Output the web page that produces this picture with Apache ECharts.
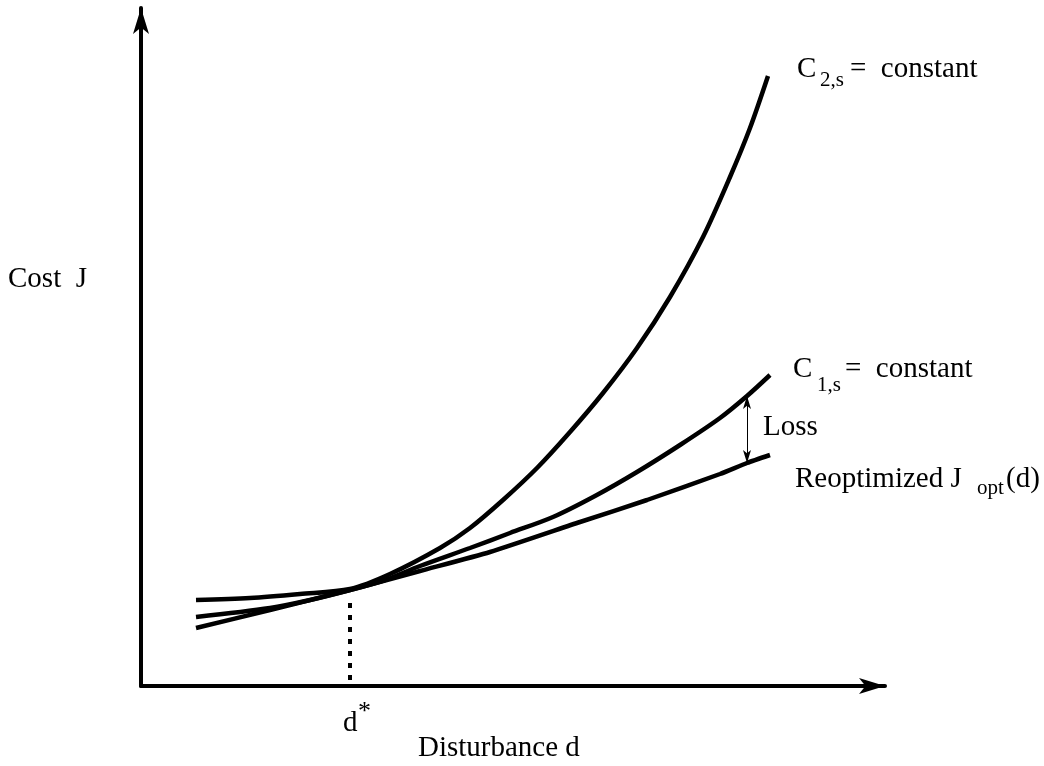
<!DOCTYPE html>
<html>
<head>
<meta charset="utf-8">
<script src="https://cdn.jsdelivr.net/npm/echarts@6/dist/echarts.min.js"></script>
<style>
  html, body { margin: 0; padding: 0; background: #fff; }
  #chart { width: 1044px; height: 766px; }
</style>
</head>
<body>
<div id="chart"></div>
<script>
// schematic units: x = disturbance, y = cost (origin at the axis corner)
const c2Curve = [[55, 86], [109, 88], [159, 92], [209, 97], [249, 112], [299, 138], [329, 158], [362, 186],
  [396, 218], [429, 254], [462, 293], [496, 338], [529, 389], [562, 449], [589, 509], [609, 558], [627, 610]];
const c1Curve = [[55, 69], [129, 78], [169, 86], [209, 96], [244, 106], [279, 120], [329, 138], [369, 153],
  [412, 169], [454, 190], [496, 214], [539, 241], [579, 268], [606, 290], [629, 311]];
const jOptCurve = [[55, 58], [129, 76], [209, 96], [279, 115], [349, 134], [439, 164], [506, 186],
  [579, 212], [606, 223], [629, 231]];
const dStar = 209;
const dStarLine = [[dStar, 83], [dStar, 0]];
const lossAt = [606, 290, 223]; // x, top (C1), bottom (J_opt)

const serif = 'Liberation Serif';
const chart = echarts.init(document.getElementById('chart'));

const lineSeries = (name, data, smooth) => ({
  name: name,
  type: 'line',
  data: data,
  smooth: smooth,
  showSymbol: false,
  silent: true,
  lineStyle: {color: '#000', width: 4.5, cap: 'butt'}
});

// y is the text baseline
const txt = (x, y, text, size) => ({
  type: 'text',
  x: x,
  y: y - Math.round(size * 0.8),
  silent: true,
  style: {text: text, fontSize: size, fontFamily: serif, fill: '#000', verticalAlign: 'top'}
});

let option = {
  animation: false,
  backgroundColor: '#fff',
  grid: {left: 141, right: 159, top: 8, bottom: 80},
  xAxis: {
    type: 'value',
    min: 0,
    max: 744,
    axisLine: {show: true, onZero: false, symbol: ['none', 'arrow'], symbolSize: [12, 26],
      lineStyle: {color: '#000', width: 4}},
    axisTick: {show: false},
    axisLabel: {show: false},
    splitLine: {show: false}
  },
  yAxis: {
    type: 'value',
    min: 0,
    max: 678,
    axisLine: {show: true, onZero: false, symbol: ['none', 'arrow'], symbolSize: [12, 26],
      lineStyle: {color: '#000', width: 4}},
    axisTick: {show: false},
    axisLabel: {show: false},
    splitLine: {show: false}
  },
  series: [
    lineSeries('C2,s = constant', c2Curve, 0.3),
    lineSeries('C1,s = constant', c1Curve, 0.3),
    lineSeries('Reoptimized Jopt(d)', jOptCurve, 0.2),
    {
      name: 'd*',
      type: 'line',
      data: dStarLine,
      showSymbol: false,
      silent: true,
      lineStyle: {color: '#000', width: 4, type: [5, 7]},
      markLine: {
        silent: true,
        symbol: ['arrow', 'arrow'],
        symbolSize: [6, 13],
        label: {show: false},
        lineStyle: {color: '#000', width: 1, type: 'solid'},
        data: [[{coord: [lossAt[0], lossAt[1]]}, {coord: [lossAt[0], lossAt[2]]}]]
      }
    }
  ],
  graphic: [
    txt(8, 288, 'Cost  J', 29),
    txt(797, 78, 'C', 29),
    txt(820, 87, '2,s', 21),
    txt(850, 78, '=  constant', 29),
    txt(793, 378, 'C', 29),
    txt(817, 392, '1,s', 21),
    txt(845, 378, '=  constant', 29),
    txt(763, 436, 'Loss', 29),
    txt(795, 488, 'Reoptimized J', 29),
    txt(977, 495, 'opt', 21),
    txt(1006, 488, '(d)', 29),
    txt(343, 732, 'd', 29),
    txt(358, 720, '*', 26),
    txt(418, 757, 'Disturbance d', 29)
  ]
};
chart.setOption(option);
</script>
</body>
</html>
